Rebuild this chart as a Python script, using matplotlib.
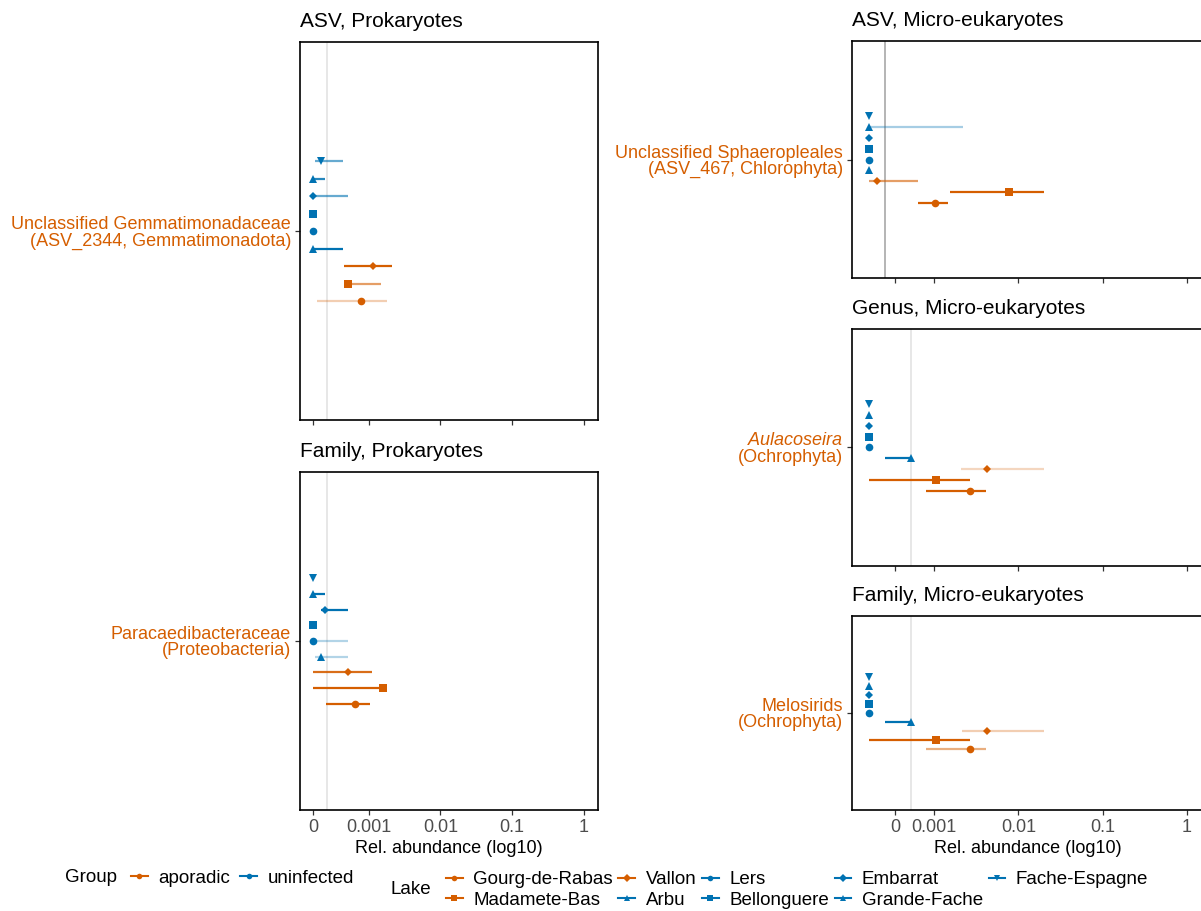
import numpy as np
import matplotlib
matplotlib.use('Agg')
import matplotlib.pyplot as plt
from matplotlib.lines import Line2D

plt.rcParams['font.family'] = ['Liberation Sans', 'DejaVu Sans']
plt.rcParams['mathtext.fontset'] = 'custom'
plt.rcParams['mathtext.it'] = 'Liberation Sans:italic'
plt.rcParams['mathtext.rm'] = 'Liberation Sans'

ORANGE = '#D55E00'
BLUE = '#0072B2'

# lakes, bottom to top in each panel
lakes = ['Gourg-de-Rabas', 'Madamete-Bas', 'Vallon', 'Arbu', 'Lers',
         'Bellonguere', 'Embarrat', 'Grande-Fache', 'Fache-Espagne']
lake_group = ['aporadic'] * 3 + ['uninfected'] * 6
lake_marker = ['o', 's', 'D', '^', 'o', 's', 'D', '^', 'v']
group_names = ['aporadic', 'uninfected']
group_colors = {'aporadic': ORANGE, 'uninfected': BLUE}

# relative abundance: estimate, lower, upper (0 = absent), line alpha
asv_pro_est = [7.8e-4, 5.2e-4, 1.16e-3, 0, 0, 0, 0, 0, 2.15e-4]
asv_pro_lo = [1.9e-4, 4.7e-4, 4.5e-4, 0, 0, 0, 0, 0, 1.8e-4]
asv_pro_hi = [1.8e-3, 1.5e-3, 2.1e-3, 4.4e-4, 1.9e-4, 0, 5.1e-4, 2.5e-4, 4.4e-4]
asv_pro_alpha = [0.3, 0.6, 1, 1, 1, 1, 0.6, 0.85, 0.6]

fam_pro_est = [6.5e-4, 1.57e-3, 5.2e-4, 2.15e-4, 0, 0, 2.5e-4, 0, 0]
fam_pro_lo = [2.55e-4, 0, 0, 1.8e-4, 0, 0, 2.15e-4, 0, 0]
fam_pro_hi = [1.04e-3, 1.57e-3, 1.1e-3, 5.2e-4, 5.2e-4, 0, 5.2e-4, 2.5e-4, 0]
fam_pro_alpha = [1, 1, 0.9, 0.3, 0.3, 1, 1, 1, 1]

asv_euk_est = [1.03e-3, 7.7e-3, 2.1e-4, 0, 0, 0, 0, 0, 0]
asv_euk_lo = [6.5e-4, 1.54e-3, 0, 0, 0, 0, 0, 0, 0]
asv_euk_hi = [1.45e-3, 2.0e-2, 6.4e-4, 0, 0, 0, 0, 2.2e-3, 0]
asv_euk_alpha = [1, 1, 0.6, 1, 1, 1, 1, 0.35, 1]

gen_euk_est = [2.67e-3, 1.04e-3, 4.3e-3, 5.3e-4, 0, 0, 0, 0, 0]
gen_euk_lo = [8.0e-4, 0, 2.1e-3, 2.6e-4, 0, 0, 0, 0, 0]
gen_euk_hi = [4.1e-3, 2.67e-3, 2.0e-2, 5.3e-4, 0, 0, 0, 0, 0]
gen_euk_alpha = [1, 1, 0.25, 1, 1, 1, 1, 1, 1]

fam_euk_est = [2.67e-3, 1.04e-3, 4.3e-3, 5.3e-4, 0, 0, 0, 0, 0]
fam_euk_lo = [8.0e-4, 0, 2.15e-3, 2.6e-4, 0, 0, 0, 0, 0]
fam_euk_hi = [4.1e-3, 2.67e-3, 2.0e-2, 5.3e-4, 0, 0, 0, 0, 0]
fam_euk_alpha = [0.5, 1, 0.3, 1, 1, 1, 1, 1, 1]

FLOOR = 1.7e-4  # where zero abundances are drawn

panels = [
    dict(title='ASV, Prokaryotes', label='Unclassified Gemmatimonadaceae\n(ASV_2344, Gemmatimonadota)',
         est=asv_pro_est, lo=asv_pro_lo, hi=asv_pro_hi, alpha=asv_pro_alpha,
         rect=(300, 42, 598, 420), col='left', vline=2.64e-4, vcol='#E3E3E3', bottom=False),
    dict(title='Family, Prokaryotes', label='Paracaedibacteraceae\n(Proteobacteria)',
         est=fam_pro_est, lo=fam_pro_lo, hi=fam_pro_hi, alpha=fam_pro_alpha,
         rect=(300, 472, 598, 810), col='left', vline=2.64e-4, vcol='#E3E3E3', bottom=True),
    dict(title='ASV, Micro-eukaryotes', label='Unclassified Sphaeropleales\n(ASV_467, Chlorophyta)',
         est=asv_euk_est, lo=asv_euk_lo, hi=asv_euk_hi, alpha=asv_euk_alpha,
         rect=(852, 41, 1203, 278), col='right', vline=2.62e-4, vcol='#A8A8A8', bottom=False),
    dict(title='Genus, Micro-eukaryotes', label='$\\mathit{Aulacoseira}$\n(Ochrophyta)',
         est=gen_euk_est, lo=gen_euk_lo, hi=gen_euk_hi, alpha=gen_euk_alpha,
         rect=(852, 329, 1203, 566), col='right', vline=5.3e-4, vcol='#E3E3E3', bottom=False),
    dict(title='Family, Micro-eukaryotes', label='Melosirids\n(Ochrophyta)',
         est=fam_euk_est, lo=fam_euk_lo, hi=fam_euk_hi, alpha=fam_euk_alpha,
         rect=(852, 616, 1203, 810), col='right', vline=5.3e-4, vcol='#E3E3E3', bottom=True),
]

xlims = {'left': (10 ** -3.955, 10 ** 0.195), 'right': (10 ** -3.974, 10 ** 0.19)}
xticks = {'left': [1.7e-4, 1e-3, 1e-2, 1e-1, 1], 'right': [3.44e-4, 1e-3, 1e-2, 1e-1, 1]}
xticklabels = ['0', '0.001', '0.01', '0.1', '1']

W, H = 1201, 911
fig = plt.figure(figsize=(W / 100, H / 100), dpi=100)

n = len(lakes)
dodge = 0.5
ypos = 1 + (np.arange(n) - (n - 1) / 2) * dodge / n

for p in panels:
    x0, y0, x1, y1 = p['rect']
    ax = fig.add_axes([x0 / W, 1 - y1 / H, (x1 - x0) / W, (y1 - y0) / H])
    ax.set_xscale('log')
    ax.axvline(p['vline'], color=p['vcol'], lw=1.2, zorder=0)
    est = np.where(np.array(p['est']) > 0, p['est'], FLOOR)
    lo = np.where(np.array(p['lo']) > 0, p['lo'], FLOOR)
    hi = np.where(np.array(p['hi']) > 0, p['hi'], FLOOR)
    for i in range(n):
        c = group_colors[lake_group[i]]
        ax.plot([lo[i], hi[i]], [ypos[i], ypos[i]], color=c, lw=1.6,
                alpha=p['alpha'][i], solid_capstyle='butt', zorder=2)
        ax.plot(est[i], ypos[i], marker=lake_marker[i], color=c, ms=5.5 if lake_marker[i] != 'D' else 4.5,
                mew=0, zorder=3)
    ax.set_xlim(*xlims[p['col']])
    ax.set_ylim(0.4, 1.6)
    ax.set_yticks([1])
    ax.set_yticklabels([p['label']], color=ORANGE, fontsize=13, linespacing=0.95, ha='right')
    ax.set_xticks(xticks[p['col']])
    ax.minorticks_off()
    if p['bottom']:
        ax.set_xticklabels(xticklabels, color='#4D4D4D', fontsize=13)
        ax.set_xlabel('Rel. abundance (log10)', fontsize=13, labelpad=3)
    else:
        ax.set_xticklabels([])
    ax.tick_params(length=3.5, width=0.9, color='#333333', pad=3)
    for s in ax.spines.values():
        s.set_linewidth(1.2)
        s.set_color('black')
    ax.set_title(p['title'], loc='left', fontsize=15, pad=10.5)

# legends
fig.text(65 / W, 1 - 878 / H, 'Group', fontsize=13.5, va='center')
g_handles = [Line2D([0], [0], color=group_colors[g], marker='o', ms=4, lw=1.5, mew=0) for g in group_names]
fig.legend(g_handles, group_names, loc='center left', bbox_to_anchor=(131 / W, 1 - 878 / H),
           ncol=2, frameon=False, fontsize=13.5, handlelength=0.9, handletextpad=0.55,
           columnspacing=0.55, borderpad=0, borderaxespad=0, numpoints=1)

fig.text(390 / W, 1 - 890 / H, 'Lake', fontsize=13.5, va='center')
l_handles = [Line2D([0], [0], color=group_colors[lake_group[i]], marker=lake_marker[i], ms=4, lw=1.5, mew=0)
             for i in range(n)]
fig.legend(l_handles, lakes, loc='center left', bbox_to_anchor=(446 / W, 1 - 890 / H),
           ncol=5, frameon=False, fontsize=13.5, handlelength=0.9, handletextpad=0.55,
           columnspacing=0.3, borderpad=0, borderaxespad=0, numpoints=1, labelspacing=0.2)

fig.savefig('out.png', dpi=100)
